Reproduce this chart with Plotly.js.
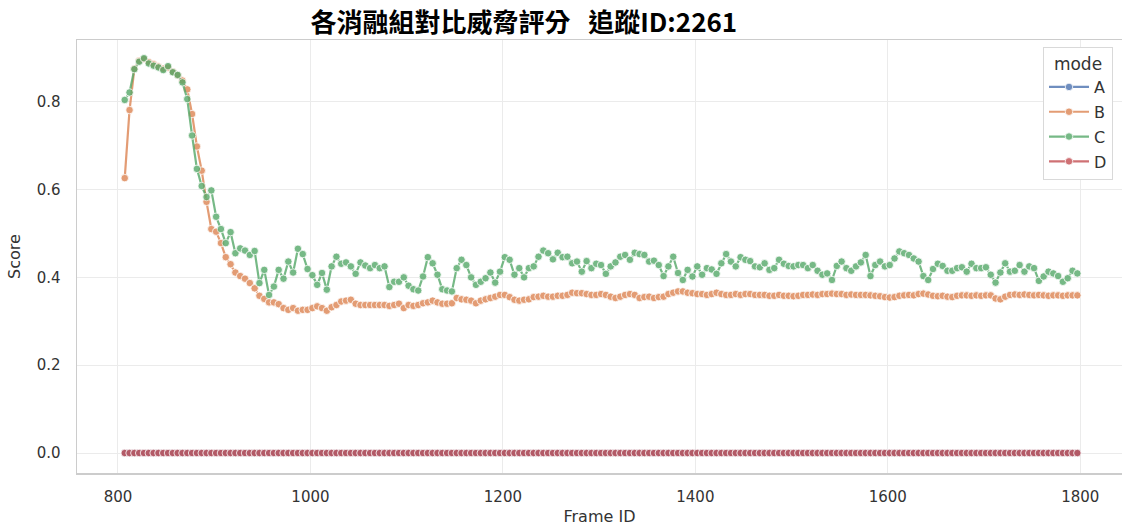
<!DOCTYPE html>
<html>
<head>
<meta charset="utf-8">
<script src="https://cdn.plot.ly/plotly-3.0.1.min.js"></script>
<style>
  html, body { margin: 0; padding: 0; background: #fff; }
  #chart { width: 1122px; height: 526px; }
</style>
</head>
<body>
<div id="chart"></div>
<script>
// Tracked object 2261: threat score per frame for each ablation mode.
const FRAME_START = 807;
const FRAME_STEP = 5;

const modes = ["A", "B", "C", "D"];
const modeColors = ["#4c72b0", "#dd8452", "#55a868", "#c44e52"];

const scoreB = [
  0.626, 0.781, 0.875, 0.893, 0.897, 0.890, 0.885, 0.880, 0.875, 0.878,
  0.868, 0.860, 0.848, 0.828, 0.772, 0.698, 0.643, 0.572, 0.510,
  0.504, 0.478, 0.446, 0.430, 0.411, 0.403, 0.397, 0.387, 0.375, 0.358,
  0.351, 0.343, 0.343, 0.339, 0.330, 0.326, 0.330, 0.324, 0.326, 0.326,
  0.330, 0.334, 0.330, 0.324, 0.332, 0.337, 0.345, 0.347, 0.349, 0.340,
  0.337, 0.337, 0.337, 0.337, 0.337, 0.337, 0.335, 0.337, 0.340, 0.330,
  0.337, 0.335, 0.337, 0.341, 0.343, 0.347, 0.343, 0.340, 0.340, 0.341,
  0.353, 0.350, 0.349, 0.347, 0.341, 0.347, 0.350, 0.353, 0.356, 0.360,
  0.360, 0.355, 0.349, 0.347, 0.349, 0.350, 0.355, 0.356, 0.358, 0.356,
  0.356, 0.358, 0.358, 0.360, 0.365, 0.364, 0.364, 0.362, 0.360, 0.360,
  0.362, 0.360, 0.356, 0.353, 0.356, 0.360, 0.362, 0.360, 0.353, 0.355,
  0.356, 0.353, 0.355, 0.356, 0.362, 0.365, 0.368, 0.368, 0.365, 0.364,
  0.362, 0.362, 0.360, 0.362, 0.365, 0.362, 0.360, 0.360, 0.362, 0.360,
  0.362, 0.362, 0.360, 0.360, 0.360, 0.358, 0.358, 0.360,
  0.358, 0.358, 0.357, 0.358, 0.360, 0.360, 0.361, 0.360, 0.362, 0.362,
  0.363, 0.362, 0.362, 0.360, 0.361, 0.360, 0.360, 0.360, 0.359, 0.358,
  0.357, 0.355, 0.354, 0.355, 0.358, 0.359, 0.360, 0.359, 0.362, 0.363,
  0.361, 0.358, 0.357, 0.358, 0.356, 0.355, 0.358, 0.359, 0.359, 0.358,
  0.359, 0.358, 0.359, 0.359, 0.352, 0.350, 0.356, 0.360, 0.361, 0.360,
  0.361, 0.360, 0.359, 0.360, 0.359, 0.358, 0.359, 0.359, 0.358, 0.359,
  0.359, 0.359
];

const scoreC = [
  0.804, 0.821, 0.874, 0.891, 0.899, 0.887, 0.882, 0.878, 0.872, 0.881,
  0.867, 0.861, 0.844, 0.806, 0.723, 0.647, 0.608, 0.583, 0.598,
  0.538, 0.510, 0.478, 0.503, 0.455, 0.466, 0.461, 0.451, 0.460, 0.387,
  0.417, 0.360, 0.379, 0.417, 0.397, 0.436, 0.411, 0.465, 0.453, 0.419,
  0.405, 0.383, 0.410, 0.372, 0.425, 0.447, 0.431, 0.434, 0.425, 0.408,
  0.434, 0.427, 0.421, 0.428, 0.421, 0.425, 0.378, 0.390, 0.390, 0.400,
  0.381, 0.373, 0.370, 0.402, 0.446, 0.432, 0.406, 0.373, 0.370, 0.368,
  0.421, 0.440, 0.428, 0.400, 0.383, 0.390, 0.398, 0.411, 0.388, 0.413,
  0.446, 0.440, 0.406, 0.421, 0.400, 0.421, 0.425, 0.447, 0.461, 0.455,
  0.441, 0.456, 0.446, 0.447, 0.432, 0.436, 0.413, 0.437, 0.421, 0.431,
  0.428, 0.408, 0.425, 0.434, 0.447, 0.451, 0.440, 0.456, 0.453, 0.451,
  0.436, 0.438, 0.428, 0.403, 0.425, 0.447, 0.410, 0.394, 0.417, 0.402,
  0.425, 0.406, 0.421, 0.418, 0.408, 0.432, 0.453, 0.436, 0.425, 0.446,
  0.440, 0.437, 0.425, 0.423, 0.432, 0.417, 0.421, 0.440,
  0.431, 0.426, 0.425, 0.428, 0.428, 0.421, 0.428, 0.415, 0.406, 0.409,
  0.394, 0.426, 0.436, 0.421, 0.415, 0.425, 0.434, 0.451, 0.403, 0.428,
  0.436, 0.425, 0.428, 0.443, 0.459, 0.455, 0.451, 0.443, 0.436, 0.403,
  0.394, 0.419, 0.431, 0.426, 0.415, 0.415, 0.421, 0.423, 0.413, 0.431,
  0.421, 0.421, 0.423, 0.406, 0.388, 0.411, 0.432, 0.413, 0.415, 0.428,
  0.413, 0.425, 0.421, 0.392, 0.402, 0.413, 0.409, 0.403, 0.390, 0.398,
  0.415, 0.409
];

// Frame IDs of the sampled frames
const frames = scoreC.map((_, i) => FRAME_START + i * FRAME_STEP);
// Modes A and D score zero on every frame
const scoreA = frames.map(() => 0);
const scoreD = frames.map(() => 0);

const xTicks = [800, 1000, 1200, 1400, 1600, 1800];
const yTicks = [0.0, 0.2, 0.4, 0.6, 0.8];

const seriesByMode = [scoreA, scoreB, scoreC, scoreD];

const traces = modes.map((m, i) => ({
  type: "scatter",
  mode: "lines+markers",
  name: m,
  legendgroup: m,
  x: frames,
  y: seriesByMode[i],
  opacity: 0.8,
  line: { color: modeColors[i], width: 2.2 },
  marker: { color: modeColors[i], size: 7.5, line: { color: "#ffffff", width: 0.8 } }
}));

const tickFont = { family: "DejaVu Sans, sans-serif", size: 15, color: "#333333" };
const labelFont = { family: "DejaVu Sans, sans-serif", size: 16, color: "#333333" };

const layout = {
  width: 1122,
  height: 526,
  paper_bgcolor: "#ffffff",
  plot_bgcolor: "#ffffff",
  margin: { l: 77, r: 0, t: 40, b: 53, pad: 0 },
  title: {
    text: "<b>各消融組對比威脅評分&nbsp;&nbsp;&nbsp;追蹤ID:2261</b>",
    font: { family: "Noto Sans CJK TC, sans-serif", size: 26, color: "#000000" },
    xref: "paper", x: 0.4276, xanchor: "center",
    yref: "container", y: 0.956, yanchor: "middle"
  },
  xaxis: {
    range: [757.4, 1843.4],
    tickvals: xTicks,
    ticktext: xTicks.map(String),
    tickfont: tickFont,
    ticks: "",
    ticklabelstandoff: 9,
    showgrid: true, gridcolor: "#ebebeb", gridwidth: 1,
    zeroline: false,
    showline: true, linecolor: "#cccccc", linewidth: 1.5, mirror: true,
    title: { text: "Frame ID", font: labelFont, standoff: 10 }
  },
  yaxis: {
    range: [-0.0455, 0.9405],
    tickvals: yTicks,
    ticktext: yTicks.map(v => v.toFixed(1)),
    tickfont: tickFont,
    ticks: "",
    ticklabelstandoff: 12,
    showgrid: true, gridcolor: "#ebebeb", gridwidth: 1,
    zeroline: false,
    showline: true, linecolor: "#cccccc", linewidth: 1.5, mirror: true,
    title: { text: "Score", font: labelFont, standoff: 12 }
  },
  legend: {
    x: 0.9914, xanchor: "right",
    y: 0.984, yanchor: "top",
    bgcolor: "#ffffff",
    bordercolor: "#d9d9d9",
    borderwidth: 1,
    font: { family: "DejaVu Sans, sans-serif", size: 16, color: "#333333" },
    title: { text: "mode", side: "top center", font: { family: "DejaVu Sans, sans-serif", size: 17, color: "#333333" } },
    itemwidth: 40,
    tracegroupgap: 1
  },
  showlegend: true
};

Plotly.newPlot("chart", traces, layout, { displayModeBar: false, staticPlot: true });
</script>
</body>
</html>
